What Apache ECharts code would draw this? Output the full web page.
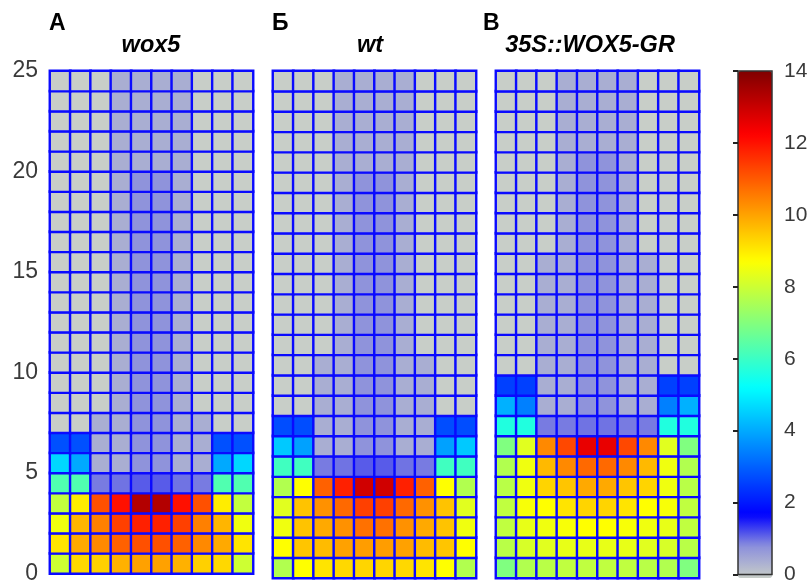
<!DOCTYPE html>
<html>
<head>
<meta charset="utf-8">
<script src="https://cdn.jsdelivr.net/npm/echarts@6/dist/echarts.min.js"></script>
<style>
  html, body { margin: 0; padding: 0; background: #ffffff; }
  #chart { width: 812px; height: 585px; }
</style>
</head>
<body>
<div id="chart"></div>
<script>
// Cell columns across the root tip and cell tiers from the tip upward
const columns = ['1', '2', '3', '4', '5', '6', '7', '8', '9', '10'];
const tiers = ['0', '1', '2', '3', '4', '5', '6', '7', '8', '9', '10', '11', '12',
               '13', '14', '15', '16', '17', '18', '19', '20', '21', '22', '23', '24'];
const tierTicks = [0, 5, 10, 15, 20, 25];
const scaleTicks = [0, 2, 4, 6, 8, 10, 12, 14];
const scaleMin = 0;
const scaleMax = 14;

const panelLetters = ['А', 'Б', 'В'];
const panelNames = ['wox5', 'wt', '35S::WOX5-GR'];

// Rows listed from tier 0 (bottom) to tier 24 (top), ten cells each
const wox5 = [
  [8.05, 9.29, 9.40, 9.83, 10.05, 10.05, 9.83, 9.40, 9.29, 8.05],
  [9.12, 9.94, 10.38, 10.93, 11.15, 11.15, 10.93, 10.38, 9.94, 9.12],
  [8.54, 9.77, 10.50, 11.37, 11.81, 11.81, 11.37, 10.50, 9.77, 8.54],
  [7.90, 9.00, 11.15, 12.03, 13.30, 13.30, 12.03, 11.15, 9.00, 7.90],
  [6.35, 6.35, 1.00, 1.05, 1.20, 1.20, 1.05, 1.00, 6.35, 6.35],
  [4.70, 4.06, 0.45, 0.45, 0.83, 0.83, 0.45, 0.45, 4.06, 4.70],
  [2.85, 2.85, 0.45, 0.45, 0.83, 0.83, 0.45, 0.45, 2.85, 2.85],
  [0, 0, 0.45, 0.45, 0.83, 0.83, 0.45, 0.45, 0, 0],
  [0, 0, 0, 0.45, 0.83, 0.83, 0.45, 0, 0, 0],
  [0, 0, 0, 0.45, 0.83, 0.83, 0.45, 0, 0, 0],
  [0, 0, 0, 0.45, 0.83, 0.83, 0.45, 0, 0, 0],
  [0, 0, 0, 0.45, 0.83, 0.83, 0.45, 0, 0, 0],
  [0, 0, 0, 0.45, 0.83, 0.83, 0.45, 0, 0, 0],
  [0, 0, 0, 0.45, 0.83, 0.83, 0.45, 0, 0, 0],
  [0, 0, 0, 0.45, 0.83, 0.83, 0.45, 0, 0, 0],
  [0, 0, 0, 0.45, 0.83, 0.83, 0.45, 0, 0, 0],
  [0, 0, 0, 0.45, 0.83, 0.83, 0.45, 0, 0, 0],
  [0, 0, 0, 0.45, 0.83, 0.83, 0.45, 0, 0, 0],
  [0, 0, 0, 0.45, 0.83, 0.83, 0.45, 0, 0, 0],
  [0, 0, 0, 0.45, 0.83, 0.83, 0.45, 0, 0, 0],
  [0, 0, 0, 0.45, 0.45, 0.45, 0.45, 0, 0, 0],
  [0, 0, 0, 0.45, 0.45, 0.45, 0.45, 0, 0, 0],
  [0, 0, 0, 0.45, 0.45, 0.45, 0.45, 0, 0, 0],
  [0, 0, 0, 0.45, 0.45, 0.45, 0.45, 0, 0, 0],
  [0, 0, 0, 0.45, 0.45, 0.45, 0.45, 0, 0, 0]
];

const wt = [
  [7.67, 8.75, 9.12, 9.29, 9.33, 9.33, 9.29, 9.12, 8.75, 7.67],
  [8.75, 9.55, 9.70, 10.05, 10.10, 10.10, 10.05, 9.70, 9.55, 8.75],
  [8.54, 9.58, 9.94, 10.27, 10.71, 10.71, 10.27, 9.94, 9.58, 8.54],
  [8.33, 9.58, 10.27, 10.82, 11.37, 11.37, 10.82, 10.27, 9.58, 8.33],
  [7.67, 8.75, 10.93, 11.81, 12.90, 12.90, 11.81, 10.93, 8.75, 7.67],
  [6.13, 6.13, 1.00, 1.05, 1.20, 1.20, 1.05, 1.00, 6.13, 6.13],
  [4.50, 3.95, 0.45, 0.45, 0.83, 0.83, 0.45, 0.45, 3.95, 4.50],
  [2.80, 2.80, 0.45, 0.45, 0.83, 0.83, 0.45, 0.45, 2.80, 2.80],
  [0, 0, 0.45, 0.45, 0.83, 0.83, 0.45, 0.45, 0, 0],
  [0, 0, 0.45, 0.45, 0.83, 0.83, 0.45, 0.45, 0, 0],
  [0, 0, 0.45, 0.45, 0.83, 0.83, 0.45, 0.45, 0, 0],
  [0, 0, 0, 0.45, 0.83, 0.83, 0.45, 0, 0, 0],
  [0, 0, 0, 0.45, 0.83, 0.83, 0.45, 0, 0, 0],
  [0, 0, 0, 0.45, 0.83, 0.83, 0.45, 0, 0, 0],
  [0, 0, 0, 0.45, 0.83, 0.83, 0.45, 0, 0, 0],
  [0, 0, 0, 0.45, 0.83, 0.83, 0.45, 0, 0, 0],
  [0, 0, 0, 0.45, 0.83, 0.83, 0.45, 0, 0, 0],
  [0, 0, 0, 0.45, 0.83, 0.83, 0.45, 0, 0, 0],
  [0, 0, 0, 0.45, 0.83, 0.83, 0.45, 0, 0, 0],
  [0, 0, 0, 0.45, 0.83, 0.83, 0.45, 0, 0, 0],
  [0, 0, 0, 0.45, 0.45, 0.45, 0.45, 0, 0, 0],
  [0, 0, 0, 0.45, 0.45, 0.45, 0.45, 0, 0, 0],
  [0, 0, 0, 0.45, 0.45, 0.45, 0.45, 0, 0, 0],
  [0, 0, 0, 0.45, 0.45, 0.45, 0.45, 0, 0, 0],
  [0, 0, 0, 0.45, 0.45, 0.45, 0.45, 0, 0, 0]
];

const wox5gr = [
  [7.00, 7.67, 7.78, 7.88, 7.88, 7.88, 7.88, 7.78, 7.67, 7.00],
  [7.78, 8.20, 8.33, 8.43, 8.43, 8.43, 8.43, 8.33, 8.20, 7.78],
  [7.88, 8.43, 8.54, 8.65, 8.75, 8.75, 8.65, 8.54, 8.43, 7.88],
  [7.88, 8.65, 8.75, 9.12, 9.35, 9.35, 9.12, 8.75, 8.65, 7.88],
  [7.78, 8.54, 9.35, 9.55, 9.94, 9.94, 9.55, 9.35, 8.54, 7.78],
  [7.67, 8.54, 9.72, 10.38, 10.82, 10.82, 10.38, 9.72, 8.54, 7.67],
  [7.00, 8.33, 10.38, 11.26, 12.55, 12.55, 11.26, 10.38, 8.33, 7.00],
  [5.69, 5.69, 1.00, 1.00, 1.05, 1.05, 1.00, 1.00, 5.69, 5.69],
  [4.17, 3.50, 0.45, 0.45, 0.83, 0.83, 0.45, 0.45, 3.50, 4.17],
  [2.63, 2.63, 0.45, 0.45, 0.83, 0.83, 0.45, 0.45, 2.63, 2.63],
  [0, 0, 0.45, 0.45, 0.83, 0.83, 0.45, 0.45, 0, 0],
  [0, 0, 0.45, 0.45, 0.83, 0.83, 0.45, 0.45, 0, 0],
  [0, 0, 0.45, 0.45, 0.83, 0.83, 0.45, 0.45, 0, 0],
  [0, 0, 0.45, 0.45, 0.83, 0.83, 0.45, 0.45, 0, 0],
  [0, 0, 0.45, 0.45, 0.83, 0.83, 0.45, 0.45, 0, 0],
  [0, 0, 0.45, 0.45, 0.83, 0.83, 0.45, 0.45, 0, 0],
  [0, 0, 0, 0.45, 0.83, 0.83, 0.45, 0, 0, 0],
  [0, 0, 0, 0.45, 0.83, 0.83, 0.45, 0, 0, 0],
  [0, 0, 0, 0.45, 0.83, 0.83, 0.45, 0, 0, 0],
  [0, 0, 0, 0.45, 0.83, 0.83, 0.45, 0, 0, 0],
  [0, 0, 0, 0.45, 0.83, 0.83, 0.45, 0, 0, 0],
  [0, 0, 0, 0.45, 0.45, 0.45, 0.45, 0, 0, 0],
  [0, 0, 0, 0.45, 0.45, 0.45, 0.45, 0, 0, 0],
  [0, 0, 0, 0.45, 0.45, 0.45, 0.45, 0, 0, 0],
  [0, 0, 0, 0.45, 0.45, 0.45, 0.45, 0, 0, 0]
];

const panels = [wox5, wt, wox5gr];

// Jet-style ramp whose lowest stretch fades from grey into blue
const rampColors = [
  '#c8cec8', '#8c90dc', '#0000ff', '#0040ff', '#0080ff', '#00c0ff', '#00ffff',
  '#40ffc0', '#80ff80', '#c0ff40', '#ffff00', '#ffc000', '#ff8000', '#ff4000',
  '#ff0000', '#c00000', '#800000'
];

const panelLeft = [50, 273, 496];
const panelWidth = 203;
const panelTop = 71;
const panelHeight = 507;
const barLeft = 738;
const barWidth = 34;
// horizontal centres of the panel headings and left edges of the panel letters
const headingX = [151, 370, 590];
const letterX = [49, 272, 483];

function toCells(rows) {
  const cells = [];
  rows.forEach(function (row, r) {
    row.forEach(function (v, c) { cells.push([c, r, v]); });
  });
  return cells;
}

const axisFont = 'Liberation Sans, Arial, sans-serif';
const titleFont = 'Liberation Sans, Arial, sans-serif';

const grids = panelLeft.map(function (l) {
  return { left: l, top: panelTop, width: panelWidth, height: panelHeight,
           show: true, borderColor: '#d4d4d4', borderWidth: 1, backgroundColor: 'transparent' };
});
grids.push({ left: barLeft, top: panelTop, width: barWidth, height: panelHeight,
             show: true, borderColor: '#333333', borderWidth: 1.5, z: 8 });

const xAxes = [0, 1, 2].map(function (i) {
  return { type: 'category', gridIndex: i, data: columns, show: false };
});
xAxes.push({ type: 'value', gridIndex: 3, min: 0, max: 1, show: false });

const yAxes = [0, 1, 2].map(function (i) {
  return { type: 'category', gridIndex: i, data: tiers, show: false };
});
// tier scale on the first panel
yAxes.push({
  type: 'value', gridIndex: 0, position: 'left', min: tierTicks[0],
  max: tierTicks[tierTicks.length - 1], interval: 5,
  axisLine: { show: false }, axisTick: { show: false }, splitLine: { show: false },
  axisLabel: { fontSize: 23, color: '#3a3a3a', fontFamily: axisFont, margin: 12 }
});
// colour scale beside the bar
yAxes.push({
  type: 'value', gridIndex: 3, position: 'right', min: scaleMin, max: scaleMax,
  interval: scaleTicks[1] - scaleTicks[0], z: 9,
  axisLine: { show: false },
  axisTick: { show: true, inside: true, length: 5, lineStyle: { color: '#222222', width: 2 } },
  splitLine: { show: false },
  axisLabel: { fontSize: 21, color: '#3a3a3a', fontFamily: axisFont, margin: 12 }
});

const series = panels.map(function (rows, i) {
  return {
    type: 'heatmap',
    xAxisIndex: i,
    yAxisIndex: i,
    data: toCells(rows),
    itemStyle: { borderColor: '#0a0aff', borderWidth: 2.4 },
    emphasis: { disabled: true },
    progressive: 0
  };
});

const graphics = [];
panelLetters.forEach(function (letter, i) {
  graphics.push({
    type: 'text', x: letterX[i], y: 24,
    style: { text: letter, fontSize: 23, fontWeight: 'bold', fontFamily: titleFont,
             fill: '#000000', textAlign: 'left', textVerticalAlign: 'middle' }
  });
  graphics.push({
    type: 'text', x: headingX[i], y: 46,
    style: { text: panelNames[i], fontSize: 23.5, fontWeight: 'bold', fontStyle: 'italic',
             fontFamily: titleFont, fill: '#000000', textAlign: 'center', textVerticalAlign: 'middle' }
  });
});

const chart = echarts.init(document.getElementById('chart'), null, { renderer: 'canvas' });
chart.setOption({
  animation: false,
  backgroundColor: '#ffffff',
  grid: grids,
  xAxis: xAxes,
  yAxis: yAxes,
  visualMap: {
    type: 'continuous',
    min: scaleMin,
    max: scaleMax,
    seriesIndex: [0, 1, 2],
    calculable: false,
    orient: 'vertical',
    left: barLeft,
    top: panelTop,
    padding: 0,
    itemWidth: barWidth,
    itemHeight: panelHeight,
    text: null,
    inRange: { color: rampColors }
  },
  graphic: graphics,
  series: series
});
</script>
</body>
</html>
